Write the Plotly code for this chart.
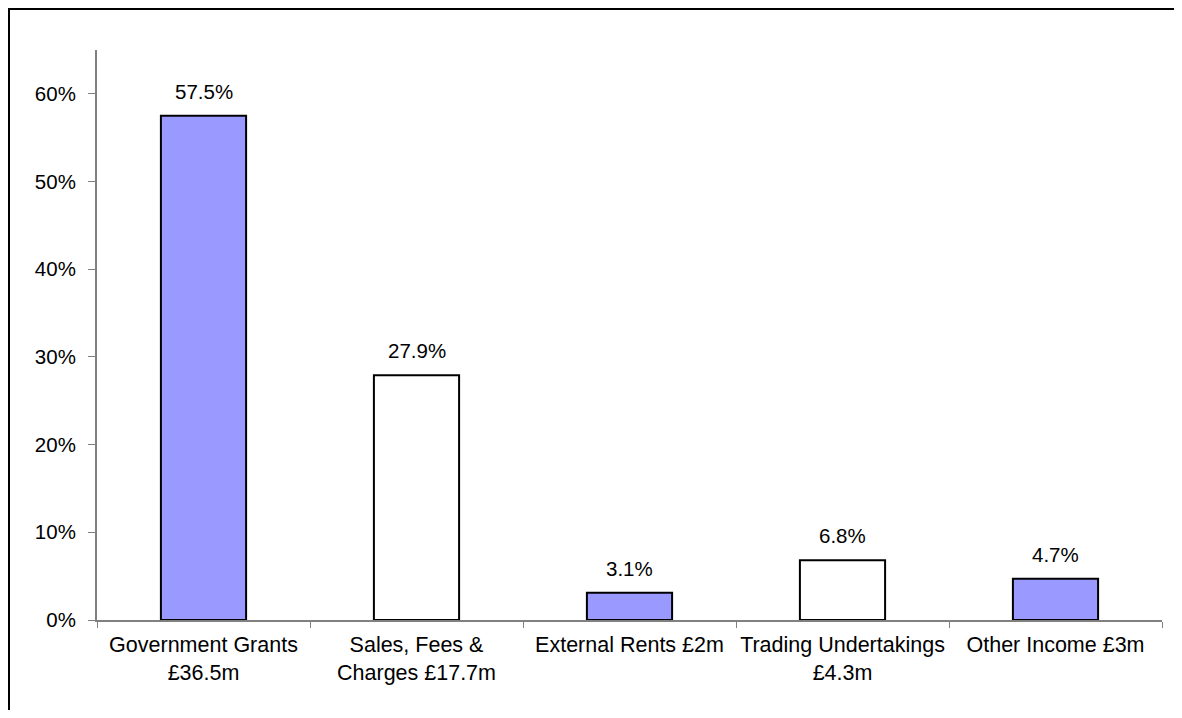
import plotly.graph_objects as go

categories = ["Government Grants<br>£36.5m", "Sales, Fees &<br>Charges £17.7m",
              "External Rents £2m", "Trading Undertakings<br>£4.3m", "Other Income £3m"]
values = [57.5, 27.9, 3.1, 6.8, 4.7]
labels = ["57.5%", "27.9%", "3.1%", "6.8%", "4.7%"]
fills = ["#9999FF", "#FFFFFF", "#9999FF", "#FFFFFF", "#9999FF"]
y_ticks = [0, 10, 20, 30, 40, 50, 60]
y_tick_text = ["0%", "10%", "20%", "30%", "40%", "50%", "60%"]

FONT = "Liberation Sans, Arial, sans-serif"

# Figure sits at an 8px page offset; size chosen so it fits the 1182x718 window
W, H = 1166, 702
L, T = 89, 42          # plot area left / top in figure pixels
PW, PH = 1065, 570     # plot area size

fig = go.Figure(go.Bar(
    x=categories, y=values,
    marker=dict(color=fills, line=dict(color="black", width=2)),
    width=0.4,
))

for c, v, t in zip(categories, values, labels):
    fig.add_annotation(x=c, y=v, text=t, showarrow=False, yanchor="bottom",
                       yshift=11, font=dict(size=20.5, color="black", family=FONT))

px_x = lambda p: (p - L) / PW
px_y = lambda p: (T + PH - p) / PH

fig.update_layout(
    width=W, height=H,
    margin=dict(l=L, r=W - L - PW, t=T, b=H - T - PH),
    paper_bgcolor="white", plot_bgcolor="white",
    showlegend=False,
    font=dict(family=FONT, size=20, color="black"),
    xaxis=dict(showline=True, linecolor="#808080", linewidth=2,
               ticks="outside", tickson="boundaries", ticklen=6, tickcolor="#808080",
               tickwidth=1, showgrid=False, tickangle=0,
               tickfont=dict(size=21.5, color="black"), ticklabelstandoff=4),
    yaxis=dict(range=[0, 65], showline=True, linecolor="#808080", linewidth=2,
               ticks="outside", ticklen=7, tickcolor="#808080", tickwidth=1,
               tickvals=y_ticks, ticktext=y_tick_text, showgrid=False, zeroline=False,
               tickfont=dict(size=20.5, color="black"), ticklabelstandoff=8),
    shapes=[
        dict(type="line", xref="paper", yref="paper",
             x0=px_x(0), x1=px_x(W), y0=px_y(1), y1=px_y(1),
             line=dict(color="black", width=2)),
        dict(type="line", xref="paper", yref="paper",
             x0=px_x(1), x1=px_x(1), y0=px_y(0), y1=px_y(H),
             line=dict(color="black", width=2)),
    ],
)

fig.write_html("out.html", config={"displayModeBar": False})
